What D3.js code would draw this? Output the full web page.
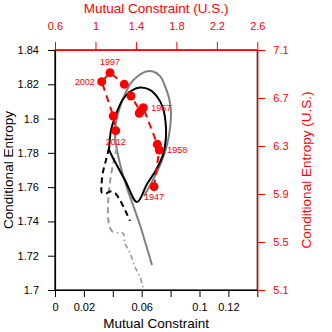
<!DOCTYPE html>
<html><head><meta charset="utf-8">
<script src="https://cdn.jsdelivr.net/npm/d3@7"></script>
<style>body{margin:0;background:#fff}svg{display:block}text{font-family:"Liberation Sans",Arial,sans-serif}</style>
</head><body>
<svg id="c" width="332" height="332"></svg>
<script>
// ---- data ----
const xTicks = [0,0.02,0.04,0.06,0.08,0.1,0.12,0.14];
const xTickLabels = ["0","0.02","","0.06","","0.1","0.12",""];
const yTicks = [1.7,1.72,1.74,1.76,1.78,1.8,1.82,1.84];
const xUSTicks = [0.6,1,1.4,1.8,2.2,2.6];
const yUSTicks = [5.1,5.5,5.9,6.3,6.7,7.1];

const blackSolidX = [0.0374,0.0388,0.0415,0.0471,0.0526,0.0588,0.0657,0.0713,0.0747,0.0765,0.0768,0.0747,0.0699,0.0637,0.0568,0.0484,0.0401,0.0374];
const blackSolidY = [1.7817,1.7933,1.8009,1.8114,1.8161,1.8181,1.8167,1.8120,1.8062,1.7980,1.7893,1.7788,1.7700,1.7618,1.7513,1.7642,1.7770,1.7817];

const graySolidX = [0.0671,0.0630,0.0588,0.0540,0.0498,0.0457,0.0429,0.0415,0.0422,0.0450,0.0484,0.0526,0.0574,0.0630,0.0678,0.0727,0.0761,0.0789,0.0803,0.0796,0.0775,0.0734,0.0678,0.0616];
const graySolidY = [1.7146,1.7263,1.7379,1.7496,1.7595,1.7712,1.7817,1.7904,1.7980,1.8068,1.8143,1.8208,1.8248,1.8275,1.8275,1.8248,1.8190,1.8120,1.8038,1.7945,1.7846,1.7741,1.7642,1.7548];

const blackDashX = [0.0374,0.0353,0.0332,0.0322,0.0325,0.0353,0.0381,0.0415,0.0436,0.0464,0.0491,0.0519];
const blackDashY = [1.7828,1.7758,1.7688,1.7613,1.7566,1.7563,1.7575,1.7566,1.7543,1.7502,1.7455,1.7403];

const grayDashX = [0.0429,0.0408,0.0388,0.0374,0.0367,0.0367,0.0381,0.0401,0.0429];
const grayDashY = [1.7828,1.7758,1.7671,1.7583,1.7496,1.7426,1.7362,1.7338,1.7333];

const grayDotX = [0.0429,0.0471,0.0484,0.0519,0.0554,0.0588,0.0613];
const grayDotY = [1.7333,1.7330,1.7274,1.7216,1.7134,1.7076,1.7006];

// U.S. series (top / right axes)
const usYears = [1947,1958,1962,1967,1972,1977,1982,1987,1997,2002,2007,2012];
const usLabels = ["1947","1958","","1967","","","","","1997","2002","","2012"];
const usX = [1.579,1.631,1.611,1.473,1.433,1.445,1.351,1.285,1.144,1.062,1.176,1.200];
const usY = [5.961,6.267,6.314,6.619,6.573,6.588,6.717,6.814,6.911,6.836,6.550,6.428];

// ---- drawing ----
const svg = d3.select("#c");
const L=55, R=257.3, T=50, B=290;
const x = d3.scaleLinear().domain([0,0.14]).range([L,R]);
const y = d3.scaleLinear().domain([1.7,1.84]).range([B,T]);
const xUS = d3.scaleLinear().domain([0.6,2.6]).range([L,R]);
const yUS = d3.scaleLinear().domain([5.1,7.1]).range([B,T]);
const RED = "#ff0000";

const line = (sx,sy)=>d3.line().x(d=>sx(d[0])).y(d=>sy(d[1])).curve(d3.curveCatmullRom.alpha(0.5));
const zip = (a,b)=>a.map((v,i)=>[v,b[i]]);

function series(xs,ys,color,dash,w){
  svg.append("path").datum(zip(xs,ys)).attr("d",line(x,y))
    .attr("fill","none").attr("stroke",color).attr("stroke-width",w||2)
    .attr("stroke-dasharray",dash||null).attr("stroke-linecap","butt");
}
series(graySolidX,graySolidY,"#808080");
series(grayDashX,grayDashY,"#999999","6,4");
series(grayDotX,grayDotY,"#999999","1.5,3,5,3",1.6);
series(blackDashX,blackDashY,"#000","6,4");
series(blackSolidX,blackSolidY,"#000");

// US series
const usData = zip(usX,usY);
svg.append("path").datum(usData)
  .attr("d",d3.line().x(d=>xUS(d[0])).y(d=>yUS(d[1])))
  .attr("fill","none").attr("stroke",RED).attr("stroke-width",2).attr("stroke-dasharray","7,5");
svg.selectAll("circle.us").data(usData).join("circle")
  .attr("cx",d=>xUS(d[0])).attr("cy",d=>yUS(d[1])).attr("r",4.5).attr("fill",RED);
const labPos = {"1947":[0,13,"middle"],"1958":[8,3,"start"],"1967":[8,3,"start"],"1997":[0,-8,"middle"],"2002":[-7,3,"end"],"2012":[0,14,"middle"]};
usData.forEach((d,i)=>{
  const lab=usLabels[i]; if(!lab) return;
  const p=labPos[lab];
  svg.append("text").attr("x",xUS(d[0])+p[0]).attr("y",yUS(d[1])+p[1]).attr("text-anchor",p[2])
    .attr("font-size",9).attr("fill",RED).text(lab);
});

// box
svg.append("rect").attr("x",L).attr("y",T).attr("width",R-L).attr("height",B-T)
  .attr("fill","none").attr("stroke","#000").attr("stroke-width",1.2);

function styleAxis(g,color,size){
  g.selectAll("path.domain").attr("stroke",color);
  g.selectAll(".tick line").attr("stroke",color);
  g.selectAll(".tick text").attr("fill",color).attr("font-size",size).attr("font-family","Liberation Sans, Arial, sans-serif");
}
const gB = svg.append("g").attr("transform",`translate(0,${B})`)
  .call(d3.axisBottom(x).tickValues(xTicks).tickSize(7).tickPadding(6).tickSizeOuter(0)
  .tickFormat((d,i)=>xTickLabels[i]));
styleAxis(gB,"#000",11);
const gL = svg.append("g").attr("transform",`translate(${L},0)`)
  .call(d3.axisLeft(y).tickValues(yTicks).tickSize(7).tickPadding(9).tickSizeOuter(0)
  .tickFormat(d=>String(+d.toFixed(2))));
styleAxis(gL,"#000",11);
const gT = svg.append("g").attr("transform",`translate(0,${T})`)
  .call(d3.axisTop(xUS).tickValues(xUSTicks).tickSize(8).tickPadding(12).tickSizeOuter(0)
  .tickFormat(d=>String(+d.toFixed(1))));
styleAxis(gT,RED,11);
const gR = svg.append("g").attr("transform",`translate(${R},0)`)
  .call(d3.axisRight(yUS).tickValues(yUSTicks).tickSize(8).tickPadding(8).tickSizeOuter(0)
  .tickFormat(d=>String(+d.toFixed(1))));
styleAxis(gR,RED,11);
[gB,gL,gT,gR].forEach(g=>g.selectAll("path.domain").attr("stroke-width",1.2));

// titles
svg.append("text").attr("x",(L+R)/2).attr("y",328).attr("text-anchor","middle").attr("font-size",13.5).attr("fill","#000").text("Mutual Constraint");
svg.append("text").attr("x",(L+R)/2).attr("y",13).attr("text-anchor","middle").attr("font-size",13.5).attr("fill",RED).text("Mutual Constraint (U.S.)");
svg.append("text").attr("transform",`translate(13,${(T+B)/2}) rotate(-90)`).attr("text-anchor","middle").attr("font-size",13.5).attr("fill","#000").text("Conditional Entropy");
svg.append("text").attr("transform",`translate(311,${(T+B)/2}) rotate(-90)`).attr("text-anchor","middle").attr("font-size",13.5).attr("fill",RED).text("Conditional Entropy (U.S.)");
</script>
</body></html>
